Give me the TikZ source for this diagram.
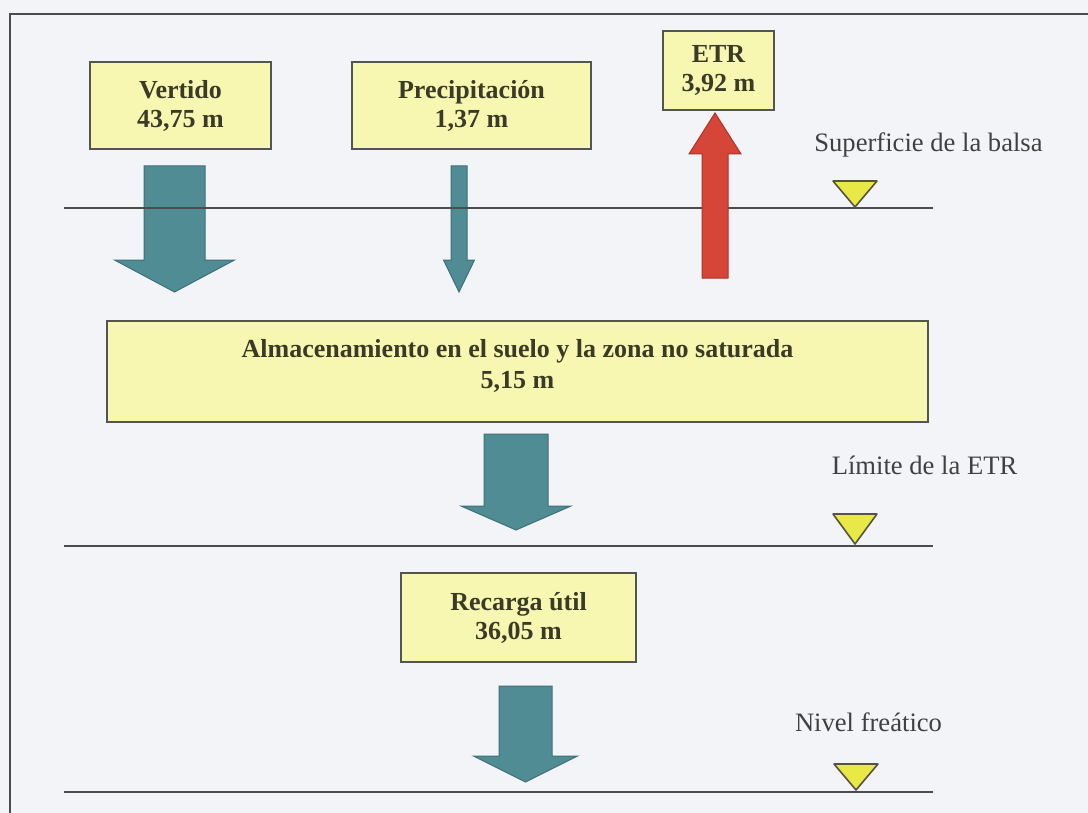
\documentclass[tikz,border=0pt]{standalone}
\usepackage{fontspec}
\setmainfont{Liberation Serif}
\usepackage{xcolor}
\usepackage{tikz}
\usetikzlibrary{calc}

\definecolor{papel}{RGB}{243,244,248}
\definecolor{cajafondo}{RGB}{247,247,178}
\definecolor{cajaborde}{RGB}{85,85,80}
\definecolor{textocaja}{RGB}{58,58,38}
\definecolor{verdeazul}{RGB}{80,140,148}
\definecolor{verdeazulosc}{RGB}{62,112,120}
\definecolor{rojo}{RGB}{214,70,56}
\definecolor{rojoosc}{RGB}{170,50,40}
\definecolor{amarillo}{RGB}{232,232,70}

\newcommand\flujo[6]{%
  \filldraw[#1] ($(#2)+(-#4,0)$) -- ($(#3)+(-#4,#6)$) -- ($(#3)+(-#5,#6)$) -- (#3)
    -- ($(#3)+(#5,#6)$) -- ($(#3)+(#4,#6)$) -- ($(#2)+(#4,0)$) -- cycle;}

\begin{document}
\begin{tikzpicture}[x=0.5pt, y=-0.5pt,
    caja/.style={rectangle, draw=cajaborde, line width=0.9pt, fill=cajafondo, align=center,
      text=textocaja, font=\fontsize{13}{14.5}\selectfont\bfseries, inner sep=0pt},
    rotulo/.style={text=black!75, font=\fontsize{13.3}{16}\selectfont, inner sep=0pt},
    nivel/.style={draw=black!70, line width=1pt},
    marca/.style={fill=amarillo, draw=black!60!yellow!60!black, line width=0.8pt, line join=round},
    bajada/.style={fill=verdeazul, draw=verdeazulosc, line width=0.5pt},
    subida/.style={fill=rojo, draw=rojoosc, line width=0.5pt},
    marco/.style={draw=black!70, line width=0.9pt}
]

\fill[papel] (0,0) rectangle (1088,813);
\useasboundingbox (0,0) rectangle (1088,813);
\draw[marco] (10,813) -- (10,14) -- (1088,14);

\node[caja, minimum width=90.5pt, minimum height=43.5pt] (vertido) at (180.5,105.5) {Vertido\\43,75 m};
\node[caja, minimum width=119.5pt, minimum height=43.5pt] (precip) at (471.5,105.5) {Precipitación\\1,37 m};
\node[caja, minimum width=55.5pt, minimum height=39.5pt] (etr) at (718.5,70.5) {ETR\\3,92 m};
\node[caja, minimum width=410.5pt, minimum height=50.5pt] (almac) at (517.5,371.5) {Almacenamiento en el suelo y la zona no saturada\\[1pt]5,15 m\\[-6.5pt]};
\node[caja, minimum width=117.5pt, minimum height=44.5pt] (recarga) at (518.5,617.5) {Recarga útil\\36,05 m};

\coordinate (v1) at (174.5,166);
\coordinate (v2) at (174.5,292);
\coordinate (p1) at (459,166);
\coordinate (p2) at (459,292);
\coordinate (e1) at (715,278);
\coordinate (e2) at (715,113);
\coordinate (a1) at (516,434);
\coordinate (a2) at (516,530);
\coordinate (r1) at (525.5,686);
\coordinate (r2) at (525.5,782);

\flujo{bajada}{v1}{v2}{30.5}{60}{-32}
\flujo{bajada}{p1}{p2}{8}{15.5}{-32}

\draw[nivel] (64,208) -- (933,208);
\draw[nivel] (64,546) -- (933,546);
\draw[nivel] (64,792) -- (933,792);

\flujo{subida}{e1}{e2}{13}{26}{41}
\flujo{bajada}{a1}{a2}{32}{55}{-24}
\flujo{bajada}{r1}{r2}{26.5}{52}{-26}

\filldraw[marca] (833,181) -- (877,181) -- (855,207) -- cycle;
\filldraw[marca] (833,514) -- (877,514) -- (855,544) -- cycle;
\filldraw[marca] (834,764) -- (878,764) -- (856,790) -- cycle;

\node[rotulo] (superficie) at (928.5,145) {Superficie de la balsa};
\node[rotulo] (limite) at (924.5,465) {Límite de la ETR};
\node[rotulo] (freatico) at (868.5,722) {Nivel freático};

\end{tikzpicture}
\end{document}
